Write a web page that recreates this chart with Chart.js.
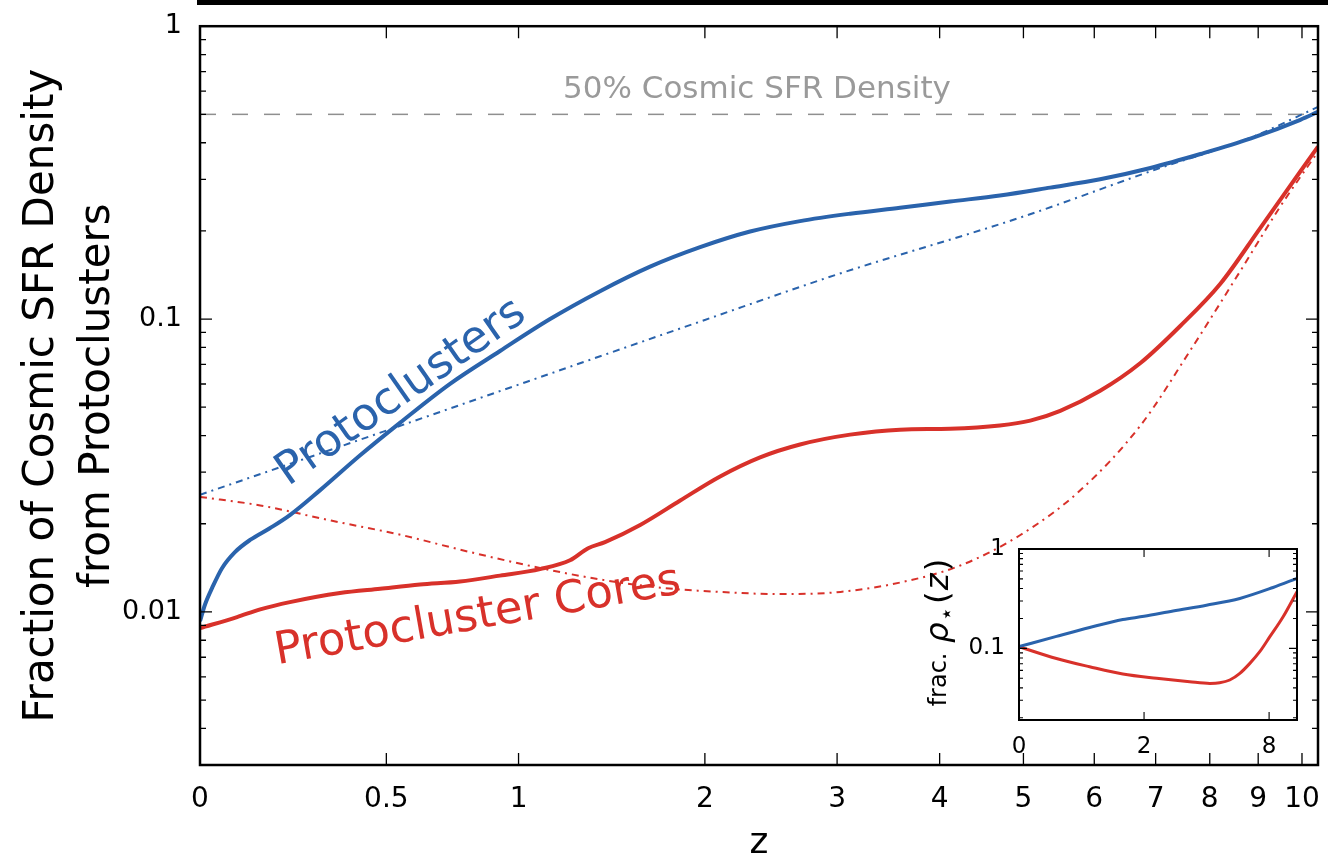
<!DOCTYPE html>
<html>
<head>
<meta charset="utf-8">
<title>Protocluster SFR fraction</title>
<script src="https://cdn.jsdelivr.net/npm/chart.js@4.4.1/dist/chart.umd.min.js"></script>
<style>
  html, body { margin: 0; padding: 0; background: #fff; }
  #wrap { position: relative; width: 1335px; height: 862px; }
  #main { position: absolute; left: 0; top: 0; }
  #inset { position: absolute; left: 900px; top: 520px; }
</style>
</head>
<body>
<div id="wrap">
  <canvas id="main" width="1335" height="862"></canvas>
  <canvas id="inset" width="420" height="250"></canvas>
</div>
<script>
// x axis is redshift, drawn as log(1+z)
const zTicks = [0, 0.5, 1, 2, 3, 4, 5, 6, 7, 8, 9, 10]
const zMax = 10.39
const fracTicks = [0.01, 0.1, 1]
const fracTickLabels = ["0.01", "0.1", "1"]
const fracMin = 0.003
const halfLevel = 0.5

// protoclusters (solid)
const pcZ = [0, 0.011, 0.027, 0.049, 0.079, 0.115, 0.164, 0.216, 0.298, 0.416, 0.546, 0.723, 0.921, 1.142, 1.388, 1.663, 1.969, 2.31, 2.69, 3.115, 3.587, 4.116, 4.7, 5.36, 6.09, 6.91, 7.82, 8.83, 9.96, 10.39]
const pcFrac = [0.0093, 0.0106, 0.0121, 0.0141, 0.016, 0.0176, 0.0193, 0.0214, 0.026, 0.0342, 0.0443, 0.0601, 0.0778, 0.1, 0.1245, 0.151, 0.176, 0.199, 0.216, 0.229, 0.24, 0.252, 0.264, 0.281, 0.3, 0.328, 0.366, 0.413, 0.479, 0.51]

// protocluster cores (solid)
const coreZ = [0, 0.084, 0.14, 0.216, 0.356, 0.48, 0.614, 0.761, 0.921, 1.096, 1.237, 1.327, 1.414, 1.606, 1.843, 2.101, 2.383, 2.69, 3.115, 3.587, 4.116, 4.7, 5.09, 5.5, 6.09, 6.74, 7.44, 8.21, 9.04, 9.96, 10.39]
const coreFrac = [0.0088, 0.0096, 0.0102, 0.0108, 0.0116, 0.012, 0.0124, 0.0127, 0.0133, 0.014, 0.015, 0.0165, 0.0173, 0.0198, 0.024, 0.029, 0.0337, 0.0373, 0.0403, 0.0419, 0.0422, 0.0433, 0.045, 0.0486, 0.0569, 0.0708, 0.0947, 0.132, 0.204, 0.319, 0.388]

// dash-dot curves
const pcFitZ = [0, 0.5, 1, 2, 3, 5, 7, 8.83, 10.39]
const pcFitFrac = [0.0251, 0.0416, 0.0597, 0.0993, 0.142, 0.224, 0.324, 0.416, 0.53]
const coreFitZ = [0, 0.14, 0.33, 0.55, 0.8, 1.1, 1.39, 1.72, 2.1, 2.53, 3.03, 3.59, 4.23, 4.96, 5.79, 6.74, 7.62, 8.62, 9.49, 10.39]
const coreFitFrac = [0.0247, 0.0231, 0.0205, 0.0183, 0.016, 0.0141, 0.0129, 0.0121, 0.0117, 0.0115, 0.0117, 0.0126, 0.0144, 0.0183, 0.026, 0.0433, 0.0778, 0.146, 0.242, 0.373]

const noteLabels = ["Protoclusters", "Protocluster Cores", "50% Cosmic SFR Density"]

// inset: frac. rho_*(z)
const insetZTicks = [0, 2, 8]
const insetZMax = 10.5
const insetFracTicks = [0.1, 1]
const insetFracTickLabels = ["0.1", "1"]
const insetFracMin = 0.019
const insetPcZ = [0, 0.39, 0.86, 1.49, 2.0, 2.87, 4.19, 5.96, 8.32, 10.5]
const insetPcFrac = [0.104, 0.132, 0.162, 0.195, 0.21, 0.238, 0.272, 0.318, 0.41, 0.506]
const insetCoreZ = [0, 0.39, 0.86, 1.49, 2.35, 3.48, 4.35, 4.83, 5.37, 5.96, 6.6, 7.29, 8.06, 9.18, 10.5]
const insetCoreFrac = [0.104, 0.079, 0.0653, 0.0551, 0.0499, 0.0461, 0.0444, 0.045, 0.048, 0.056, 0.0706, 0.0925, 0.131, 0.208, 0.372]

const BLUE = "#2a63ac"
const RED = "#d8312a"
const FONT = "'DejaVu Sans', sans-serif"

function toPoints(zs, fs) {
	return zs.map((z, i) => ({ x: 1 + z, y: fs[i] }))
}

// ticks pointing into the plot on all four sides, plus the frame
const inwardTicks = {
	id: "inwardTicks",
	afterDatasetsDraw(chart, args, opts) {
		const { ctx, chartArea: a, scales: { x, y } } = chart
		ctx.save()
		ctx.strokeStyle = "#000"
		ctx.lineWidth = opts.tickWidth
		ctx.beginPath()
		for (const t of x.ticks) {
			const px = x.getPixelForValue(t.value)
			ctx.moveTo(px, a.bottom)
			ctx.lineTo(px, a.bottom - opts.major)
			ctx.moveTo(px, a.top)
			ctx.lineTo(px, a.top + opts.major)
		}
		const lo = Math.floor(Math.log10(y.min))
		const hi = Math.ceil(Math.log10(y.max))
		for (let d = lo; d <= hi; d++) {
			for (let k = 1; k < 10; k++) {
				const v = k * Math.pow(10, d)
				if (v < y.min * 0.999 || v > y.max * 1.001) continue
				const len = k === 1 ? opts.major : opts.minor
				const py = y.getPixelForValue(v)
				ctx.moveTo(a.left, py)
				ctx.lineTo(a.left + len, py)
				ctx.moveTo(a.right, py)
				ctx.lineTo(a.right - len, py)
			}
		}
		ctx.stroke()
		ctx.lineWidth = opts.frameWidth
		ctx.strokeRect(a.left, a.top, a.right - a.left, a.bottom - a.top)
		ctx.restore()
	}
}

// text placed in data coordinates
const notes = {
	id: "notes",
	afterDatasetsDraw(chart, args, opts) {
		const { ctx, scales: { x, y } } = chart
		for (const n of opts.items) {
			ctx.save()
			ctx.translate(x.getPixelForValue(1 + n.z), y.getPixelForValue(n.frac))
			ctx.rotate(n.angle * Math.PI / 180)
			ctx.font = n.font
			ctx.fillStyle = n.color
			ctx.textAlign = "center"
			ctx.textBaseline = "middle"
			ctx.fillText(n.text, 0, 0)
			ctx.restore()
		}
	}
}

// black strip left at the top edge of the figure
const topStrip = {
	id: "topStrip",
	beforeDraw(chart) {
		const { ctx, chartArea: a } = chart
		ctx.save()
		ctx.fillStyle = "#000"
		ctx.fillRect(a.left - 3, 0, a.right - a.left + 13, 5)
		ctx.restore()
	}
}

new Chart(document.getElementById("main"), {
	type: "line",
	data: {
		datasets: [
			{
				label: noteLabels[0],
				data: toPoints(pcZ, pcFrac),
				borderColor: BLUE,
				borderWidth: 4,
				pointRadius: 0,
				cubicInterpolationMode: "monotone"
			},
			{
				label: noteLabels[1],
				data: toPoints(coreZ, coreFrac),
				borderColor: RED,
				borderWidth: 4,
				pointRadius: 0,
				cubicInterpolationMode: "monotone"
			},
			{
				label: "fit",
				data: toPoints(pcFitZ, pcFitFrac),
				borderColor: BLUE,
				borderWidth: 2,
				borderDash: [7, 5, 2, 5],
				pointRadius: 0,
				cubicInterpolationMode: "monotone"
			},
			{
				label: "cores fit",
				data: toPoints(coreFitZ, coreFitFrac),
				borderColor: RED,
				borderWidth: 2,
				borderDash: [7, 5, 2, 5],
				pointRadius: 0,
				cubicInterpolationMode: "monotone"
			},
			{
				label: noteLabels[2],
				data: [{ x: 1, y: halfLevel }, { x: 1 + zMax, y: halfLevel }],
				borderColor: "#8f8f8f",
				borderWidth: 1.5,
				borderDash: [16, 16],
				pointRadius: 0
			}
		]
	},
	options: {
		responsive: false,
		animation: false,
		layout: { padding: { top: 24, right: 17, left: 0, bottom: 0 } },
		plugins: {
			legend: { display: false },
			tooltip: { enabled: false },
			inwardTicks: { major: 12, minor: 6, tickWidth: 1.3, frameWidth: 2.5 },
			notes: {
				items: [
					{ text: noteLabels[0], z: 0.55, frac: 0.056, angle: -35, color: BLUE, font: "45px " + FONT },
					{ text: noteLabels[1], z: 0.83, frac: 0.0096, angle: -10, color: RED, font: "45px " + FONT },
					{ text: noteLabels[2], z: 2.36, frac: 0.605, angle: 0, color: "#9a9a9a", font: "31px " + FONT }
				]
			}
		},
		scales: {
			x: {
				type: "logarithmic",
				min: 1,
				max: 1 + zMax,
				grid: { display: false },
				border: { display: false },
				afterBuildTicks: s => { s.ticks = zTicks.map(z => ({ value: 1 + z })) },
				ticks: {
					callback: (v, i) => String(zTicks[i]),
					font: { family: FONT, size: 28 },
					color: "#000",
					padding: 10,
					autoSkip: false,
					maxRotation: 0
				},
				title: {
					display: true,
					text: "z",
					color: "#000",
					font: { family: FONT, size: 36, lineHeight: 1 },
					padding: { top: 0, bottom: 0 }
				},
				afterFit: s => { s.height = 97 }
			},
			y: {
				type: "logarithmic",
				min: fracMin,
				max: 1,
				grid: { display: false },
				border: { display: false },
				afterBuildTicks: s => { s.ticks = fracTicks.map(v => ({ value: v })) },
				ticks: {
					callback: (v, i) => fracTickLabels[i],
					font: { family: FONT, size: 27 },
					color: "#000",
					padding: 10,
					autoSkip: false
				},
				title: {
					display: true,
					text: ["Fraction of Cosmic SFR Density", "from Protoclusters"],
					color: "#000",
					font: { family: FONT, size: 42, lineHeight: 1.333 },
					padding: { top: 14, bottom: 0 }
				},
				afterFit: s => { s.width = 200 }
			}
		}
	},
	plugins: [topStrip, inwardTicks, notes]
})

// white face for the inset axes
const insetFace = {
	id: "insetFace",
	beforeDatasetsDraw(chart) {
		const { ctx, chartArea: a } = chart
		ctx.save()
		ctx.fillStyle = "#fff"
		ctx.fillRect(a.left, a.top, a.right - a.left, a.bottom - a.top)
		ctx.restore()
	}
}

// y label of the inset: frac. rho_star(z), written piece by piece
const insetLabel = {
	id: "insetLabel",
	afterDraw(chart, args, opts) {
		const { ctx, chartArea: a } = chart
		const size = opts.size
		const m = size * 1.35
		const parts = [
			{ t: "frac. ", font: `${size}px ${FONT}`, dy: 0, gap: 2 },
			{ t: "\u03c1", font: `italic ${m}px ${FONT}`, dy: 0, gap: 1 },
			{ t: "\u22c6", font: `${Math.round(size * 0.95)}px ${FONT}`, dy: size * 0.35, gap: 3 },
			{ t: "(", font: `${m}px ${FONT}`, dy: 0, gap: 1 },
			{ t: "z", font: `italic ${m}px ${FONT}`, dy: 0, gap: 2 },
			{ t: ")", font: `${m}px ${FONT}`, dy: 0, gap: 0 }
		]
		ctx.save()
		let total = 0
		for (const p of parts) {
			ctx.font = p.font
			p.w = ctx.measureText(p.t).width + p.gap
			total += p.w
		}
		ctx.translate(opts.x, (a.top + a.bottom) / 2 + opts.shift)
		ctx.rotate(-Math.PI / 2)
		ctx.fillStyle = "#000"
		ctx.textBaseline = "middle"
		ctx.textAlign = "left"
		let cx = -total / 2
		for (const p of parts) {
			ctx.font = p.font
			ctx.fillText(p.t, cx, p.dy)
			cx += p.w
		}
		ctx.restore()
	}
}

new Chart(document.getElementById("inset"), {
	type: "line",
	data: {
		datasets: [
			{
				label: "protoclusters",
				data: toPoints(insetPcZ, insetPcFrac),
				borderColor: BLUE,
				borderWidth: 3,
				pointRadius: 0,
				cubicInterpolationMode: "monotone"
			},
			{
				label: "cores",
				data: toPoints(insetCoreZ, insetCoreFrac),
				borderColor: RED,
				borderWidth: 3,
				pointRadius: 0,
				cubicInterpolationMode: "monotone"
			}
		]
	},
	options: {
		responsive: false,
		animation: false,
		layout: { padding: { top: 29, right: 23, left: 0, bottom: 0 } },
		plugins: {
			legend: { display: false },
			tooltip: { enabled: false },
			inwardTicks: { major: 8, minor: 4, tickWidth: 1.1, frameWidth: 2 },
			insetLabel: { x: 40, size: 24, shift: -2 }
		},
		scales: {
			x: {
				type: "logarithmic",
				min: 1,
				max: 1 + insetZMax,
				grid: { display: false },
				border: { display: false },
				afterBuildTicks: s => { s.ticks = insetZTicks.map(z => ({ value: 1 + z })) },
				ticks: {
					callback: (v, i) => String(insetZTicks[i]),
					font: { family: FONT, size: 23 },
					color: "#000",
					padding: 5,
					autoSkip: false,
					maxRotation: 0
				},
				afterFit: s => { s.height = 50 }
			},
			y: {
				type: "logarithmic",
				min: insetFracMin,
				max: 1,
				grid: { display: false },
				border: { display: false },
				afterBuildTicks: s => { s.ticks = insetFracTicks.map(v => ({ value: v })) },
				ticks: {
					callback: (v, i) => insetFracTickLabels[i],
					font: { family: FONT, size: 23 },
					color: "#000",
					padding: 6,
					autoSkip: false
				},
				afterFit: s => { s.width = 119 }
			}
		}
	},
	plugins: [insetFace, inwardTicks, insetLabel]
})
</script>
</body>
</html>
